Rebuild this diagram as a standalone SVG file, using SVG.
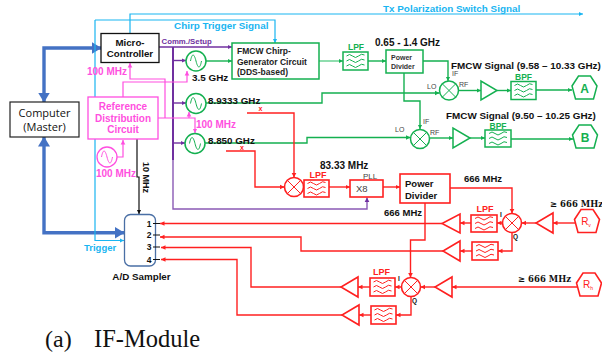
<svg xmlns="http://www.w3.org/2000/svg" width="602" height="360" viewBox="0 0 602 360">
<style>
text{font-family:"Liberation Sans",Arial,sans-serif;font-weight:bold;fill:#111}
.c{fill:none;stroke-linejoin:miter}
.r{stroke:#ff2020;stroke-width:1.4}.g{stroke:#14b050;stroke-width:1.4}.p{stroke:#7030a0;stroke-width:1.4}.m{stroke:#ff4fe0;stroke-width:1.2}.l{stroke:#19b5f1;stroke-width:1.2}.k{stroke:#111;stroke-width:1.2}
.bl{stroke:#4472c4;stroke-width:3.4}
.n{fill:#fff}
.sr{stroke:#ff2020;stroke-width:1.6;fill:#fff}.sg{stroke:#14b050;stroke-width:1.5;fill:#fff}.sm{stroke:#ff4fe0;stroke-width:1.3;fill:#fff}
.w{fill:none;stroke-width:1}.wr{stroke:#ff2020}.wg{stroke:#14b050}
.tg{fill:#14b050}.tr{fill:#ff2020}.tm{fill:#ff4fe0}.tl{fill:#19b5f1}.tp{fill:#7030a0}
.s{font-weight:normal;fill:#444}
</style>
<defs>
<marker id="ar" markerUnits="userSpaceOnUse" markerWidth="6" markerHeight="6" refX="4.500" refY="3" orient="auto"><path d="M0 0.700L4.500 3L0 5.300z" fill="#ff2020"/></marker>
<marker id="ag" markerUnits="userSpaceOnUse" markerWidth="6" markerHeight="6" refX="4.500" refY="3" orient="auto"><path d="M0 0.700L4.500 3L0 5.300z" fill="#14b050"/></marker>
<marker id="ap" markerUnits="userSpaceOnUse" markerWidth="6" markerHeight="6" refX="4.500" refY="3" orient="auto"><path d="M0 0.700L4.500 3L0 5.300z" fill="#7030a0"/></marker>
<marker id="am" markerUnits="userSpaceOnUse" markerWidth="6" markerHeight="6" refX="4.500" refY="3" orient="auto"><path d="M0 0.700L4.500 3L0 5.300z" fill="#ff4fe0"/></marker>
<marker id="al" markerUnits="userSpaceOnUse" markerWidth="6" markerHeight="6" refX="4.500" refY="3" orient="auto"><path d="M0 0.700L4.500 3L0 5.300z" fill="#19b5f1"/></marker>
<marker id="ak" markerUnits="userSpaceOnUse" markerWidth="6" markerHeight="6" refX="4.500" refY="3" orient="auto"><path d="M0 0.700L4.500 3L0 5.300z" fill="#111"/></marker>
<marker id="ab" markerUnits="userSpaceOnUse" markerWidth="11" markerHeight="12" refX="9.500" refY="6" orient="auto-start-reverse"><path d="M0 0L10 6L0 12z" fill="#4472c4"/></marker>
<path id="wave" d="M-9 -5q3 -3 6 0t6 0t6 -1M-9 0q3 -3 6 0t6 0t6 -1M-9 5q3 -3 6 0t6 0t6 -1"/>
<path id="sine" d="M-5.500 0C-4 -8 -2 -8 0 0S4 8 5.500 0"/>
<path id="xm" d="M-6.700 -6.700L6.700 6.700M6.700 -6.700L-6.700 6.700"/>
<polygon id="hept" points="-6,-12 6,-12 12.500,-2 9,11 -9,11 -12.500,-2"/>
</defs>

<g id="connectors">
<path class="c bl" marker-start="url(#ab)" marker-end="url(#ab)" d="M44 102V48H101"/>
<path class="c bl" marker-start="url(#ab)" marker-end="url(#ab)" d="M44 137V232.700H124"/>
<path class="c l" marker-end="url(#al)" d="M130 33V14H583"/>
<path class="c l" marker-end="url(#al)" d="M95 20V240.500H124"/>
<path class="c l" marker-end="url(#al)" d="M95 20H275V43"/>
<path class="c k" marker-end="url(#ak)" d="M137 139V177H139V214"/>
<path class="c p" marker-end="url(#ap)" d="M159 47H232"/>
<path class="c p" style="stroke-width:2" d="M173 47V160"/>
<path class="c p" style="stroke:#8a5ab5" marker-end="url(#ap)" d="M173 160V209H367V197.500"/>
<path class="c p" marker-end="url(#ap)" d="M173 60.500H186"/>
<path class="c p" marker-end="url(#ap)" d="M173 103H186"/>
<path class="c p" marker-end="url(#ap)" d="M173 143H185"/>
<path class="c m" marker-end="url(#am)" d="M117 157H123V140"/>
<path class="c m" marker-end="url(#am)" d="M123 97V82H187V71"/>
<path class="c m" marker-end="url(#am)" d="M165 118V79H130V63"/>
<path class="c m" marker-end="url(#am)" d="M158 118H195V133"/>
<path class="c m" marker-end="url(#am)" d="M189 118V112"/>
<path class="c g" marker-end="url(#ag)" d="M206 61H232"/>
<path class="c g" style="stroke:#5fcf8c" marker-end="url(#ag)" d="M319 61H343"/>
<path class="c g" marker-end="url(#ag)" d="M368 61H386"/>
<path class="c g" marker-end="url(#ag)" d="M423 61H448V81"/>
<path class="c g" marker-end="url(#ag)" d="M404 73V101H420V129"/>
<path class="c g" marker-end="url(#ag)" d="M206 103H322V93H439.500"/>
<path class="c g" marker-end="url(#ag)" d="M205 143H307V137.500H410.500"/>
<path class="c g" marker-end="url(#ag)" d="M458.500 90.500H481"/>
<path class="c g" marker-end="url(#ag)" d="M497 90.500H511"/>
<path class="c g" marker-end="url(#ag)" d="M536 90H572"/>
<path class="c g" marker-end="url(#ag)" d="M430 138H453"/>
<path class="c g" marker-end="url(#ag)" d="M470 138H485"/>
<path class="c g" marker-end="url(#ag)" d="M511 139H573"/>
<path class="c r" marker-end="url(#ar)" d="M247 113H294V177.500"/>
<path class="c r" marker-end="url(#ar)" d="M226 151H255V187H284.500"/>
<path class="c r" marker-end="url(#ar)" d="M329 187H350"/>
<path class="c r" marker-end="url(#ar)" d="M383 187H400"/>
<path class="c r" marker-end="url(#ar)" d="M450 188H512V213.500"/>
<path class="c r" marker-end="url(#ar)" d="M576 223H553"/>
<path class="c r" marker-end="url(#ar)" d="M536 223H521.500"/>
<path class="c r" marker-end="url(#ar)" d="M502.500 223H497"/>
<path class="c r" marker-end="url(#ar)" d="M471 223H460"/>
<path class="c r" marker-end="url(#ar)" d="M442 223.500H160"/>
<path class="c r" marker-end="url(#ar)" d="M512 232.500V251H498"/>
<path class="c r" marker-end="url(#ar)" d="M472 251H460"/>
<path class="c r" marker-end="url(#ar)" d="M443 251H301V237H160"/>
<path class="c r" marker-end="url(#ar)" d="M425 203V240H410.500V277.500"/>
<path class="c r" marker-end="url(#ar)" d="M577 287H452"/>
<path class="c r" marker-end="url(#ar)" d="M435 287H420.500"/>
<path class="c r" marker-end="url(#ar)" d="M401.500 287H395"/>
<path class="c r" marker-end="url(#ar)" d="M370 287H358"/>
<path class="c r" marker-end="url(#ar)" d="M341 287H251V247.500H161"/>
<path class="c r" marker-end="url(#ar)" d="M411 296.500V315H396"/>
<path class="c r" marker-end="url(#ar)" d="M371 315H359"/>
<path class="c r" marker-end="url(#ar)" d="M342 315H237V259.500H161"/>
</g>

<g id="computer"><rect x="10" y="102" width="69" height="35" class="n" stroke="#222" stroke-width="1.2"/>
<text x="44.500" y="116.500" font-size="11" text-anchor="middle" style="font-weight:normal;font-family:'Open Sans',sans-serif">Computer</text>
<text x="44.500" y="131" font-size="11" text-anchor="middle" style="font-weight:normal;font-family:'Open Sans',sans-serif">(Master)</text></g>
<g id="micro"><rect x="101" y="33.500" width="58" height="29" class="n" stroke="#111" stroke-width="1.3"/>
<text x="130" y="45.500" font-size="9.700" text-anchor="middle">Micro-</text>
<text x="130" y="57" font-size="9.700" text-anchor="middle">Controller</text></g>
<g id="refdist"><rect x="88" y="97" width="70" height="42" class="sm"/>
<text x="123" y="110" font-size="10" text-anchor="middle" class="tm">Reference</text>
<text x="123" y="121.500" font-size="10" text-anchor="middle" class="tm">Distribution</text>
<text x="123" y="133" font-size="10" text-anchor="middle" class="tm">Circuit</text></g>
<g id="osc-ref" transform="translate(107 157)"><circle r="10" class="sm"/><use href="#sine" fill="none" stroke="#ff4fe0"/></g>
<g id="osc-35" transform="translate(196 61)"><circle r="10" class="sg"/><use href="#sine" fill="none" stroke="#14b050"/></g>
<g id="osc-89" transform="translate(196 103.500)"><circle r="10" class="sg"/><use href="#sine" fill="none" stroke="#14b050"/></g>
<g id="osc-885" transform="translate(195 143.500)"><circle r="10" class="sg"/><use href="#sine" fill="none" stroke="#14b050"/></g>
<g id="chirp"><rect x="232" y="43" width="87" height="36" class="sg"/>
<text x="237" y="54" font-size="8.500" style="fill:#222">FMCW Chirp-</text>
<text x="237" y="64.500" font-size="8.500" style="fill:#222">Generator Circuit</text>
<text x="237" y="75" font-size="8.500" style="fill:#222">(DDS-based)</text></g>
<g id="lpf-g"><rect x="343" y="52" width="25" height="18" class="sg"/><use href="#wave" x="355.500" y="61" class="w wg"/><text x="356" y="50" font-size="8.500" text-anchor="middle" class="tg">LPF</text></g>
<g id="pd-g"><rect x="386" y="50" width="37" height="23" class="sg"/>
<text x="391" y="60" font-size="7" style="fill:#333">Power</text>
<text x="391" y="69" font-size="7" style="fill:#333">Divider</text></g>
<g id="mixer-a" transform="translate(449 90.500)"><circle r="9.500" class="sg"/><use href="#xm" fill="none" stroke="#14b050"/></g>
<g id="mixer-b" transform="translate(420 139)"><circle r="9.500" class="sg"/><use href="#xm" fill="none" stroke="#14b050"/></g>
<g id="amp-a"><polygon points="481,81 481,100 497,90.500" class="sg"/></g>
<g id="amp-b"><polygon points="453,128 453,148 470,138" class="sg"/></g>
<g id="bpf-a"><rect x="511" y="81.500" width="25" height="18" class="sg"/><use href="#wave" x="523.500" y="90.500" class="w wg"/><text x="523.500" y="80" font-size="8.500" text-anchor="middle" class="tg">BPF</text></g>
<g id="bpf-b"><rect x="485" y="130" width="26" height="17" class="sg"/><use href="#wave" x="498" y="138.500" class="w wg"/><text x="498" y="128.500" font-size="8.500" text-anchor="middle" class="tg">BPF</text></g>
<g id="port-a" transform="translate(584.500 88)"><use href="#hept" class="sg"/><text y="4.500" font-size="12" text-anchor="middle" class="tg">A</text></g>
<g id="port-b" transform="translate(585 137)"><use href="#hept" class="sg"/><text y="4.500" font-size="12" text-anchor="middle" class="tg">B</text></g>

<g id="mixer-down" transform="translate(294 187)"><circle r="9.500" class="sr"/><use href="#xm" fill="none" stroke="#ff2020"/></g>
<g id="lpf-r0"><rect x="304" y="180" width="25" height="17" class="sr"/><use href="#wave" x="316.500" y="188.500" class="w wr"/><text x="318" y="177.500" font-size="9" text-anchor="middle" class="tr">LPF</text></g>
<g id="x8"><rect x="350" y="180" width="33" height="17" class="sr"/><text x="356" y="192" font-size="9.500" class="s">X8</text><text x="363" y="178.500" font-size="8" class="s">PLL</text></g>
<g id="pd-r"><rect x="400" y="174" width="50" height="29" class="sr"/>
<text x="405" y="187" font-size="9.500">Power</text><text x="405" y="198.500" font-size="9.500">Divider</text></g>
<g id="mixer-v" transform="translate(512 223)"><circle r="9.500" class="sr"/><use href="#xm" fill="none" stroke="#ff2020"/></g>
<g id="mixer-h" transform="translate(411 287)"><circle r="9.500" class="sr"/><use href="#xm" fill="none" stroke="#ff2020"/></g>
<g id="amp-v-in"><polygon points="553,213 553,233 536,223" class="sr"/></g>
<g id="amp-h-in"><polygon points="452,277 452,297 435,287" class="sr"/></g>
<g id="lpf-v-i"><rect x="471" y="215" width="26" height="17" class="sr"/><use href="#wave" x="484" y="223.500" class="w wr"/><text x="485" y="212" font-size="9" text-anchor="middle" class="tr">LPF</text></g>
<g id="lpf-v-q"><rect x="472" y="242" width="26" height="18" class="sr"/><use href="#wave" x="485" y="251" class="w wr"/></g>
<g id="lpf-h-i"><rect x="370" y="278" width="25" height="18" class="sr"/><use href="#wave" x="382.500" y="287" class="w wr"/><text x="381.500" y="275" font-size="9" text-anchor="middle" class="tr">LPF</text></g>
<g id="lpf-h-q"><rect x="371" y="306" width="25" height="18" class="sr"/><use href="#wave" x="383.500" y="315" class="w wr"/></g>
<g id="amp-v-i"><polygon points="460,214 460,233 442,223.500" class="sr"/></g>
<g id="amp-v-q"><polygon points="460,241 460,261 443,251" class="sr"/></g>
<g id="amp-h-i"><polygon points="358,277 358,297 341,287" class="sr"/></g>
<g id="amp-h-q"><polygon points="359,305 359,325 342,315" class="sr"/></g>
<g id="port-rv" transform="translate(587 221.500)"><use href="#hept" class="sr"/><text x="-1" y="3" font-size="10" text-anchor="middle" class="tr" style="font-weight:normal">R<tspan font-size="5" dy="2">v</tspan></text></g>
<g id="port-rh" transform="translate(589 285)"><use href="#hept" class="sr"/><text x="-1" y="3" font-size="10" text-anchor="middle" class="tr" style="font-weight:normal">R<tspan font-size="5" dy="2">h</tspan></text></g>
<g id="adc"><rect x="124.500" y="214.500" width="31" height="51.500" rx="6" fill="#fff" stroke="#4a6fa5" stroke-width="1.3"/>
<path class="c k" d="M153 223.500H160M153 235H160M153 247H160M153 259.500H160"/>
<text x="149" y="226.500" font-size="8.500" text-anchor="middle">1</text>
<text x="149" y="238" font-size="8.500" text-anchor="middle">2</text>
<text x="149" y="250" font-size="8.500" text-anchor="middle">3</text>
<text x="149" y="263" font-size="8.500" text-anchor="middle">4</text>
<text x="141.500" y="280" font-size="9.800" text-anchor="middle">A/D Sampler</text></g>

<g id="labels">
<text x="174" y="28.500" font-size="9.900" class="tl">Chirp Trigger Signal</text>
<text x="383" y="12" font-size="9.900" class="tl">Tx Polarization Switch Signal</text>
<text x="161.500" y="44" font-size="7.800" class="tp">Comm./Setup</text>
<text x="87" y="75" font-size="10" class="tm">100 MHz</text>
<text x="196" y="128" font-size="10" class="tm">100 MHz</text>
<text x="96" y="177" font-size="10" class="tm">100 MHz</text>
<text x="192" y="81" font-size="9.900">3.5 GHz</text>
<text x="208" y="103.500" font-size="9.800">8.9333 GHz</text>
<text x="208" y="143.500" font-size="9.800">8.850 GHz</text>
<text x="258.500" y="111" font-size="7" class="tr">x</text>
<text x="240" y="150" font-size="7" class="tr">x</text>
<text x="375" y="46" font-size="10">0.65 - 1.4 GHz</text>
<text x="451" y="69" font-size="9.900">FMCW Signal (9.58 – 10.33 GHz)</text>
<text x="446" y="119" font-size="9.900">FMCW Signal (9.50 – 10.25 GHz)</text>
<text x="427" y="89" font-size="7" class="s">LO</text>
<text x="452" y="76" font-size="7" class="s">IF</text>
<text x="459" y="87" font-size="7" class="s">RF</text>
<text x="395" y="132" font-size="7" class="s">LO</text>
<text x="423" y="124" font-size="7" class="s">IF</text>
<text x="430" y="135" font-size="7" class="s">RF</text>
<text x="320" y="169" font-size="10">83.33 MHz</text>
<text x="464" y="182" font-size="9.500">666 MHz</text>
<text x="384" y="215.500" font-size="9.500">666 MHz</text>
<text x="500" y="217" font-size="6.500">I</text>
<text x="513" y="239" font-size="6.500">Q</text>
<text x="398" y="281" font-size="6.500">I</text>
<text x="412" y="303" font-size="6.500">Q</text>
<text x="550" y="207" font-size="8.500" style="font-family:'DejaVu Serif',serif">≥ 666 MHz</text>
<text x="518" y="282" font-size="8.500" style="font-family:'DejaVu Serif',serif">≥ 666 MHz</text>
<text x="84" y="251" font-size="9.500" class="tl">Trigger</text>
<text transform="translate(143 162) rotate(90)" font-size="9">10 MHz</text>
<text x="45" y="347" font-size="24" style="font-family:'Liberation Serif',serif;font-weight:normal">(a)</text>
<text x="94" y="347" font-size="24.500" style="font-family:'Liberation Serif',serif;font-weight:normal">IF-Module</text>
</g>
</svg>
